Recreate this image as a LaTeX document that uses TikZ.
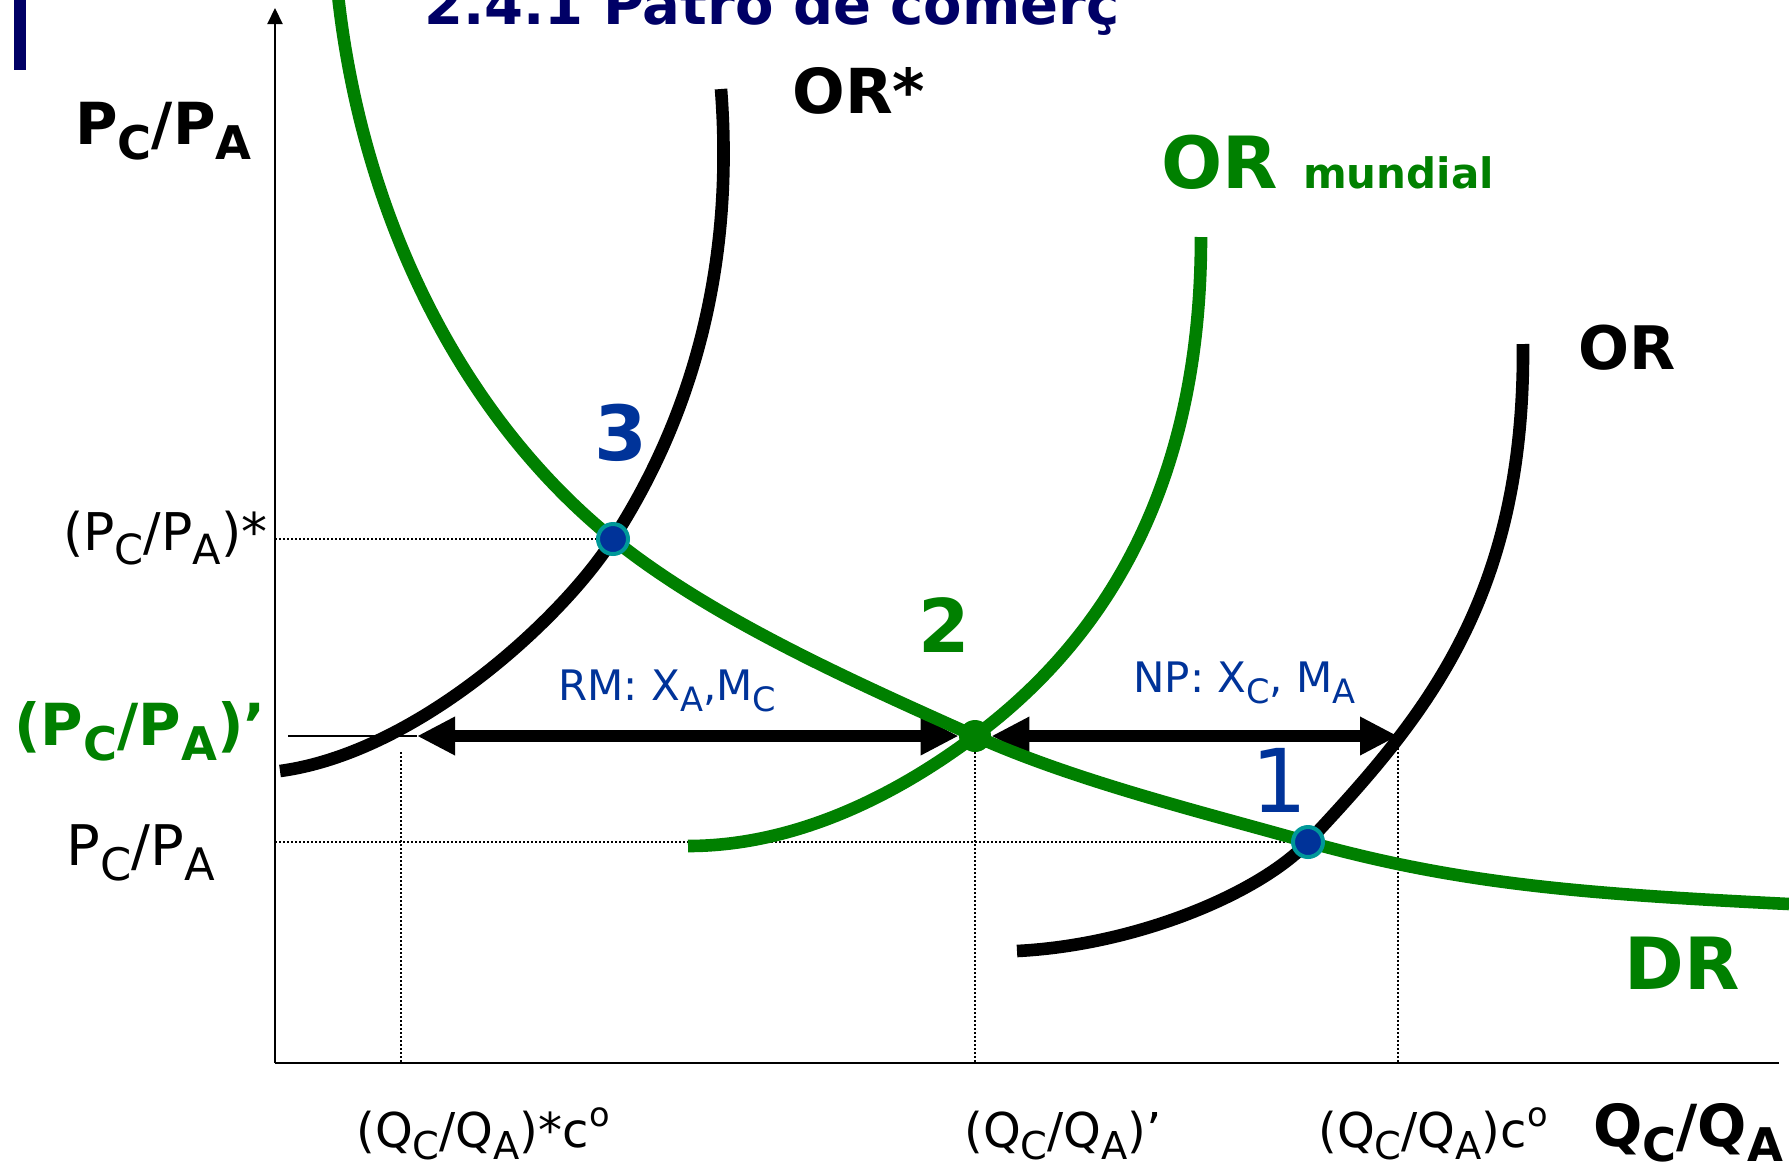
\documentclass[tikz,border=0pt]{standalone}
\usepackage{fontspec}
\setmainfont{DejaVu Sans}
\usetikzlibrary{arrows.meta}

\definecolor{navy}{RGB}{0,0,102}
\definecolor{ptblue}{RGB}{0,51,153}
\definecolor{ringteal}{RGB}{0,153,153}
\definecolor{orgreen}{RGB}{0,128,0}

\newcommand{\lowsub}[1]{\raisebox{-0.27em}{\scalebox{0.8}{#1}}}
\newcommand{\ordo}{\raisebox{0.42em}{\scalebox{0.7}{o}}}
\newcommand{\fs}[1]{\fontsize{#1}{#1}\selectfont}

\pgfdeclarelayer{bg}
\pgfsetlayers{bg,main}

\begin{document}
\begin{tikzpicture}[x=0.5pt, y=-0.5pt,
  axis/.style={line width=1.1pt},
  guide/.style={line width=0.8pt, dash pattern=on 1pt off 1pt},
  offer/.style={line width=6.3pt},
  world/.style={line width=6.3pt, draw=orgreen},
  arr/.style={{Triangle[length=19pt,width=18pt]}-{Triangle[length=19pt,width=18pt]},
    line width=5.8pt},
  eq/.style={circle, draw=ringteal, line width=2pt, fill=ptblue,
    inner sep=0pt, minimum size=15pt},
  eqmid/.style={circle, fill=orgreen, inner sep=0pt, minimum size=16pt},
  lbl/.style={inner sep=0pt, anchor=base west},
  num/.style={inner sep=0pt, anchor=base}
]
\clip (0,0) rectangle (1789,1169);

% axes
\coordinate (o) at (275,1063);
\coordinate (ytop) at (275,8);
\coordinate (xend) at (1779,1063);
\draw[axis, -{Triangle[length=8pt,width=7.5pt]}] (o) -- (ytop);
\draw[axis] (o) -- (xend);

% equilibria
\coordinate (p3) at (613,539);
\coordinate (p2) at (975,736);
\coordinate (p1) at (1308,842);
\coordinate (tipL) at (417,736);
\coordinate (tipR) at (1398,736);
\coordinate (stub) at (288,736);
\coordinate (qstar) at (401,752);

% curves
\draw[offer] (721,89) .. controls (735,270) and (690,420) .. (p3)
  .. controls (565,615) and (420,752) .. (280,771);
\draw[offer] (1523,344) .. controls (1525,600) and (1424,718) .. (p1)
  .. controls (1260,893) and (1137,945) .. (1017,951);
\draw[world] (1201,237) .. controls (1201,480) and (1110,635) .. (p2)
  .. controls (887,802) and (788,846) .. (688,846);
\draw[world] (338,-5) .. controls (362,215) and (460,415) .. (p3)
  .. controls (714,620) and (857,683) .. (p2)
  .. controls (1075,781) and (1202,812) .. (p1)
  .. controls (1462,885) and (1589,894) .. (1789,904);

\node[eq] (e3) at (p3) {};
\node[eqmid] (e2) at (p2) {};
\node[eq] (e1) at (p1) {};

\begin{pgfonlayer}{bg}
\draw[guide] (o |- e3) -- (e3);
\draw[guide] (o |- e1) -- (e1);
\draw[guide] (qstar) -- (qstar |- o);
\draw[guide] (e2) -- (e2 |- o);
\draw[guide] (tipR) -- (tipR |- o);
\draw[line width=0.8pt] (stub) -- (tipL);
\draw[arr] (tipL) -- (e2);
\draw[arr] (e2) -- (tipR);
\end{pgfonlayer}

% title
\fill[navy] (14,0) rectangle (26,70);
\node[lbl, font=\bfseries\fs{28}, text=navy] (title) at (424,24) {2.4.1 Patró de comerç};

% axis labels
\node[lbl, font=\bfseries\fs{29}] (ylab) at (75,144) {P\lowsub{C}/P\lowsub{A}};
\node[lbl, font=\bfseries\fs{29}] (xlab) at (1593,1146) {Q\lowsub{C}/Q\lowsub{A}};
\node[lbl, anchor=base east, font=\fs{26}] (pstar) at (268,550) {(P\lowsub{C}/P\lowsub{A})*};
\node[lbl, anchor=base east, font=\bfseries\fs{29}, text=orgreen] (pw) at (266,745)
  {(P\lowsub{C}/P\lowsub{A})'};
\node[lbl, font=\fs{28}] (paut) at (66,865) {P\lowsub{C}/P\lowsub{A}};
\node[lbl, font=\fs{24}] (qstarlab) at (356,1147) {(Q\lowsub{C}/Q\lowsub{A})*c\ordo};
\node[lbl, font=\fs{24}] (qw) at (964,1147) {(Q\lowsub{C}/Q\lowsub{A})'};
\node[lbl, font=\fs{24}] (qaut) at (1318,1147) {(Q\lowsub{C}/Q\lowsub{A})c\ordo};

% curve labels
\node[lbl, font=\bfseries\fs{31}] (orstarlab) at (792,113) {OR*};
\node[lbl, font=\bfseries\fs{36}, text=orgreen] (orwlab) at (1161,188) {OR {\fs{21}mundial}};
\node[lbl, font=\bfseries\fs{30}] (orlab) at (1578,369) {OR};
\node[lbl, font=\bfseries\fs{36}, text=orgreen] (drlab) at (1624,989) {DR};

% trade flows
\node[lbl, font=\fs{21}, text=ptblue] (rm) at (558,700) {RM: X\lowsub{A},M\lowsub{C}};
\node[lbl, font=\fs{21}, text=ptblue] (np) at (1133,692) {NP: X\lowsub{C}, M\lowsub{A}};

% equilibrium numbers
\node[num, font=\bfseries\fs{38}, text=ptblue] (n3) at (621,460) {3};
\node[num, font=\bfseries\fs{37}, text=orgreen] (n2) at (944,652) {2};
\node[num, font=\fs{44}, text=ptblue] (n1) at (1279,812) {1};

\end{tikzpicture}
\end{document}
